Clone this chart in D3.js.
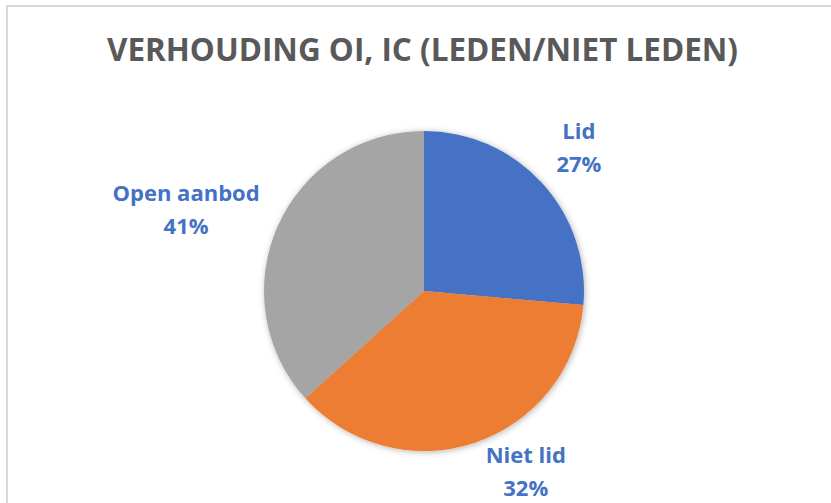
<!DOCTYPE html>
<html>
<head>
<meta charset="utf-8">
<script src="https://cdn.jsdelivr.net/npm/d3@7"></script>
<style>
  body { margin: 0; background: #fff; }
  svg { display: block; }
</style>
</head>
<body>
<div id="chart"></div>
<script>
// data (slice sizes from the drawn angles, label text as printed)
var categories = ["Lid", "Niet lid", "Open aanbod"];
var values = [26.4, 36.9, 36.7];
var percentLabels = ["27%", "32%", "41%"];
var colors = ["#4472C4", "#ED7D31", "#A5A5A5"];

var width = 831,
  height = 503;

var svgContainer = d3
  .select("#chart")
  .append("svg")
  .attr("width", width)
  .attr("height", height);

// shadow like the excel soft edge
var defs = svgContainer.append("defs");
defs
  .append("filter")
  .attr("id", "shadow")
  .attr("x", "-20%")
  .attr("y", "-20%")
  .attr("width", "140%")
  .attr("height", "140%")
  .append("feDropShadow")
  .attr("dx", 1)
  .attr("dy", 1)
  .attr("stdDeviation", 3)
  .attr("flood-color", "#000")
  .attr("flood-opacity", 0.3);

// chart area border (only top and left show in the crop)
svgContainer
  .append("rect")
  .attr("x", 7)
  .attr("y", 6)
  .attr("width", 900)
  .attr("height", 600)
  .attr("fill", "none")
  .attr("stroke", "#D9D9D9")
  .attr("stroke-width", 2);

// title
svgContainer
  .append("text")
  .attr("x", 422.5)
  .attr("y", 61)
  .attr("text-anchor", "middle")
  .attr("textLength", 631)
  .attr("lengthAdjust", "spacingAndGlyphs")
  .style("font-family", "'Open Sans', sans-serif")
  .style("font-weight", "bold")
  .style("font-size", "32px")
  .attr("fill", "#595959")
  .text("VERHOUDING OI, IC (LEDEN/NIET LEDEN)");

var cx = 424,
  cy = 291,
  radius = 160;

var pie = d3.pie().sort(null).value(function (d) {
  return d;
});
var arcs = pie(values);

var arc = d3.arc().innerRadius(0).outerRadius(radius);
var labelArc = d3.arc().innerRadius(210).outerRadius(210);

// excel "best fit" moves two of the labels a bit off the mid angle
var labelNudge = [
  [0, -1],
  [35, -18],
  [-46, 4]
];

var chart = svgContainer
  .append("g")
  .attr("transform", "translate(" + cx + "," + cy + ")");

chart
  .append("g")
  .attr("filter", "url(#shadow)")
  .selectAll("path")
  .data(arcs)
  .enter()
  .append("path")
  .attr("d", arc)
  .attr("fill", function (d, i) {
    return colors[i];
  });

var labels = chart
  .selectAll(".label")
  .data(arcs)
  .enter()
  .append("text")
  .attr("class", "label")
  .attr("text-anchor", "middle")
  .style("font-family", "'Open Sans', sans-serif")
  .style("font-weight", "bold")
  .style("font-size", "22px")
  .attr("fill", "#4472C4")
  .attr("transform", function (d, i) {
    var c = labelArc.centroid(d);
    return "translate(" + (c[0] + labelNudge[i][0]) + "," + (c[1] + labelNudge[i][1]) + ")";
  });

labels
  .append("tspan")
  .attr("x", 0)
  .attr("y", -9)
  .text(function (d, i) {
    return categories[i];
  });
labels
  .append("tspan")
  .attr("x", 0)
  .attr("y", 24)
  .text(function (d, i) {
    return percentLabels[i];
  });
</script>
</body>
</html>
